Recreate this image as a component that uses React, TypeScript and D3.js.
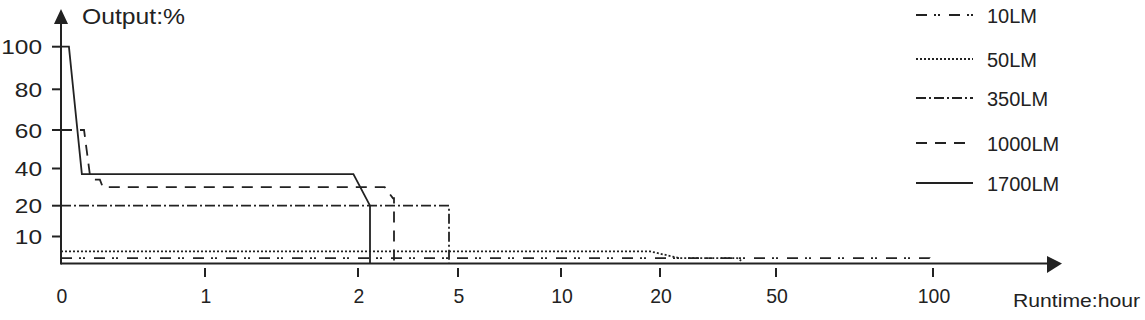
import React from "react";
import * as d3 from "d3";

// ---------- data ----------
const xTickValues = [0, 1, 2, 5, 10, 20, 50, 100];
const xTickLabels = ["0", "1", "2", "5", "10", "20", "50", "100"];
const yTickValues = [10, 20, 40, 60, 80, 100];
const yTickLabels = ["10", "20", "40", "60", "80", "100"];

const seriesNames = ["10LM", "50LM", "350LM", "1000LM", "1700LM"];

// [hours, output %]
const lm10: [number, number][] = [[0, 2], [99, 2], [100, 0.5]];
const lm50: [number, number][] = [[0, 4.5], [19, 4.5], [25, 2], [40, 2], [41, 1]];
const lm350: [number, number][] = [[0, 20], [4.73, 20], [4.73, 0]];
const lm1000: [number, number][] = [
  [0, 60], [0.16, 60], [0.2, 37], [0.22, 34], [0.27, 34], [0.29, 30],
  [2.8, 30], [3.05, 24], [3.08, 24], [3.08, 0],
];
const lm1700: [number, number][] = [
  [0, 100], [0.055, 100], [0.145, 37], [1.97, 37], [2.36, 20], [2.36, 0],
];

const seriesData = [lm10, lm50, lm350, lm1000, lm1700];
const seriesDash = ["11 7 2 2 2 9", "2 2", "10 3 2 3", "11 8", "none"];

export default function App() {
  const W = 1145, H = 320;
  // piecewise (non-uniform) axes as in the reference
  const x = d3.scaleLinear()
    .domain(xTickValues)
    .range([61, 205, 358, 458, 561, 660, 776, 933]);
  const y = d3.scaleLinear()
    .domain([0, 10, 20, 40, 60, 80, 100])
    .range([263.5, 236.5, 205.7, 168.5, 130, 89.3, 46.7]);

  const line = d3.line<[number, number]>().x(d => x(d[0])).y(d => y(d[1]));
  const ink = "#222";
  const font = "'Liberation Sans', Arial, sans-serif";
  const y0 = y(0);

  return (
    <svg width={W} height={H} style={{ position: "absolute", left: 0, top: 0, background: "#fff" }}>
      {/* series */}
      {seriesData.map((d, i) => (
        <path key={i} d={line(d) || ""} fill="none" stroke={ink} strokeWidth={1.8}
          strokeDasharray={seriesDash[i]} />
      ))}

      {/* axes */}
      <line x1={x(0)} x2={1047} y1={y0} y2={y0} stroke={ink} strokeWidth={2} />
      <path d={`M1047,256 L1062,${y0} L1047,273 Z`} fill={ink} />
      <line x1={x(0)} x2={x(0)} y1={y0 + 1} y2={22} stroke={ink} strokeWidth={2} />
      <path d={`M${x(0) - 7},24 L${x(0)},9 L${x(0) + 7},24 Z`} fill={ink} />

      {/* y ticks */}
      {yTickValues.map((v, i) => (
        <g key={v}>
          <line x1={52} x2={x(0)} y1={y(v)} y2={y(v)} stroke={ink} strokeWidth={2} />
          <text x={42} y={y(v) + 7.5} textAnchor="end" fontFamily={font} fontSize={21}
            fill={ink} textLength={yTickLabels[i].length * 13.6} lengthAdjust="spacingAndGlyphs">
            {yTickLabels[i]}
          </text>
        </g>
      ))}

      {/* x ticks */}
      {xTickValues.map((v, i) => (
        <g key={v}>
          {v > 0 && <line x1={x(v)} x2={x(v)} y1={268} y2={277} stroke={ink} strokeWidth={2} />}
          <text x={x(v) + 1} y={303} textAnchor="middle" fontFamily={font} fontSize={21}
            fill={ink} textLength={xTickLabels[i].length * 10.8} lengthAdjust="spacingAndGlyphs">
            {xTickLabels[i]}
          </text>
        </g>
      ))}

      <text x={82} y={24} fontFamily={font} fontSize={22} fill={ink}
        textLength={103} lengthAdjust="spacingAndGlyphs">Output:%</text>
      <text x={1013} y={307} fontFamily={font} fontSize={19} fill={ink}
        textLength={127} lengthAdjust="spacingAndGlyphs">Runtime:hour</text>

      {/* legend */}
      {seriesNames.map((n, i) => {
        const ly = [15, 59, 98, 143, 183][i];
        return (
          <g key={n}>
            <line x1={916} x2={973} y1={ly} y2={ly} stroke={ink} strokeWidth={1.8}
              strokeDasharray={seriesDash[i]} />
            <text x={987} y={ly + 7.5} fontFamily={font} fontSize={20} fill={ink}>{n}</text>
          </g>
        );
      })}
    </svg>
  );
}
